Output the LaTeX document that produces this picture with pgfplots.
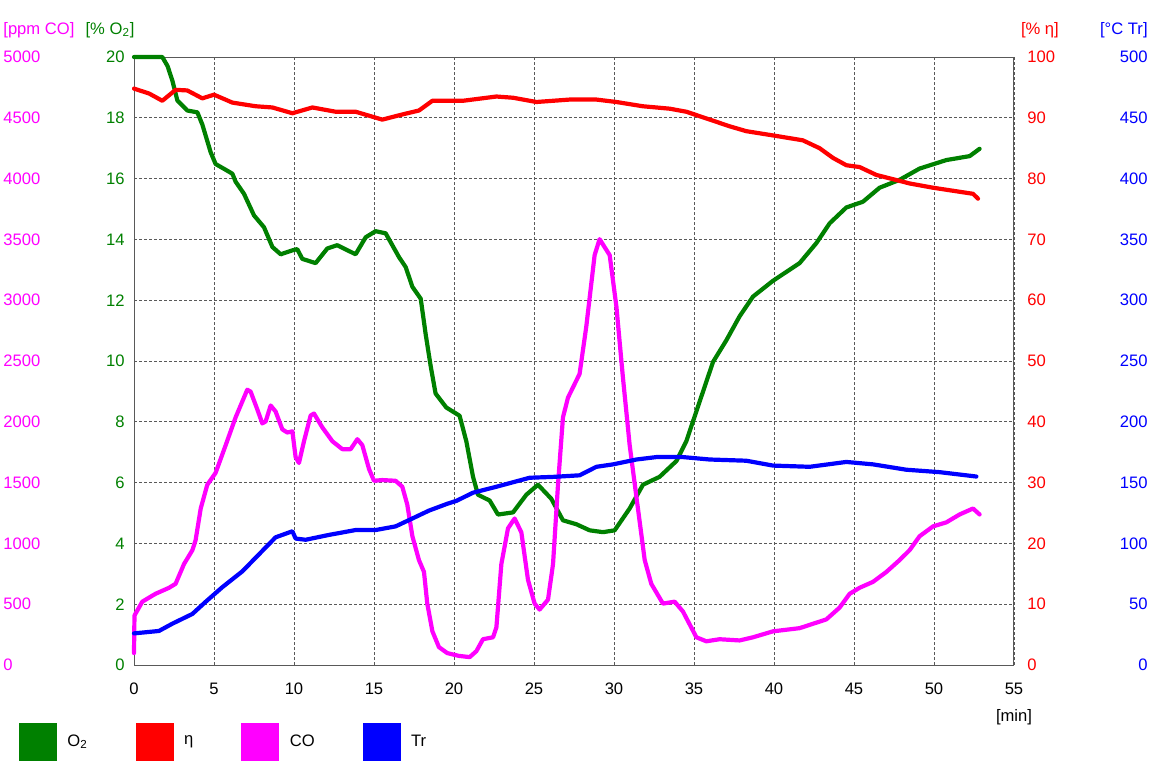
\documentclass[border=0pt]{standalone}
\usepackage{fontspec}
\setmainfont{Liberation Sans}
\usepackage{pgfplots}
\pgfplotsset{compat=1.18}
\definecolor{o2col}{RGB}{0,128,0}
\definecolor{etacol}{RGB}{255,0,0}
\definecolor{cocol}{RGB}{255,0,255}
\definecolor{trcol}{RGB}{0,0,255}
\newcommand\tf{\fontsize{8.3}{10}\selectfont}
\pgfplotsset{
  base/.style={
    scale only axis, width=440pt, height=304pt,
    at={(0,0)}, anchor=south west,
    xmin=0, xmax=55, clip=false,
    major tick length=0pt,
    /pgf/number format/assume math mode=true,
    /pgf/number format/1000 sep={},
    scaled y ticks=false, scaled x ticks=false,
    ticklabel style={font=\tf},
  },
  overlay/.style={base, hide x axis, axis line style={draw=none}},
  series/.style={line width=2.1pt, line join=round, line cap=round},
}
\begin{document}
\begin{tikzpicture}
% ---------- O2 axis (main, grid) ----------
\begin{axis}[base,
  ymin=0, ymax=20, ytick={0,2,...,20},
  xtick={0,5,...,55},
  ytick pos=left,
  axis line style={black!65, line width=0.5pt},
  grid=major,
  major grid style={black!65, line width=0.45pt, dash pattern=on 1.5pt off 1pt},
  yticklabel style={text=o2col, anchor=east, inner sep=0pt, xshift=-4.5pt},
  xticklabel style={anchor=north, inner sep=0pt, yshift=-8.8pt},
]
\addplot[series, o2col] coordinates {
(0,20) (1.77,20) (2.1,19.7) (2.4,19.22) (2.71,18.57) (3.33,18.24) (3.96,18.18) (4.27,17.78) (4.79,16.87) (5.1,16.48) (5.73,16.29) (6.15,16.16) (6.35,15.9) (6.875,15.5) (7.5,14.79) (8.125,14.4) (8.65,13.75) (9.17,13.51) (9.9,13.64) (10.2,13.68) (10.52,13.36) (11.35,13.22) (12.08,13.7) (12.7,13.81) (13.85,13.51) (14.48,14.07) (15.1,14.27) (15.73,14.2) (16.56,13.42) (16.98,13.09) (17.4,12.44) (17.92,12.05) (18.23,10.88) (18.54,9.84) (18.85,8.93) (19.52,8.47) (20.35,8.2) (20.77,7.36) (21.19,6.19) (21.5,5.6) (22.23,5.41) (22.75,4.95) (23.69,5.02) (24.52,5.6) (25.25,5.93) (26.08,5.47) (26.81,4.76) (27.65,4.63) (28.48,4.43) (29.31,4.37) (30.04,4.43) (30.98,5.15) (31.81,5.93) (32.85,6.19) (33.9,6.71) (34.52,7.36) (35.35,8.66) (36.19,9.97) (37.02,10.68) (37.85,11.47) (38.69,12.12) (39.94,12.64) (41.6,13.22) (42.65,13.88) (43.48,14.53) (44.52,15.05) (45.56,15.24) (46.6,15.7) (47.85,15.96) (49.1,16.33) (50.77,16.61) (52.23,16.74) (52.85,16.98)
};
\end{axis}
% ---------- eta axis (right, inner) ----------
\begin{axis}[overlay,
  ymin=0, ymax=100, ytick={0,10,...,100},
  ytick pos=right,
  yticklabel style={text=etacol, anchor=west, inner sep=0pt, xshift=6.5pt},
]
\addplot[series, etacol] coordinates {
(0,94.8) (0.94,94.0) (1.77,92.8) (2.6,94.6) (3.33,94.5) (4.27,93.2) (5,93.8) (6.15,92.5) (7.6,91.9) (8.65,91.7) (9.9,90.75) (11.15,91.7) (12.6,91.0) (13.85,91.0) (15.52,89.7) (16.77,90.55) (17.81,91.2) (18.65,92.8) (19.69,92.8) (20.56,92.8) (22.65,93.5) (23.69,93.3) (25.15,92.6) (27.23,93.0) (28.9,93.0) (30.15,92.6) (31.8,91.9) (33.48,91.5) (34.52,91.0) (35.77,89.9) (37.23,88.6) (38.27,87.8) (39.94,87.1) (41.8,86.3) (42.85,85.0) (43.69,83.4) (44.52,82.2) (45.35,81.9) (46.4,80.6) (47.44,79.9) (48.48,79.2) (49.94,78.5) (51.19,78.0) (52.44,77.5) (52.75,76.7)
};
\end{axis}
% ---------- CO axis (left, outer) ----------
\begin{axis}[overlay,
  ymin=0, ymax=5000, ytick={0,500,...,5000},
  ytick pos=left,
  yticklabel style={text=cocol, anchor=west, inner sep=0pt, xshift=-65.5pt},
]
\addplot[series, cocol] coordinates {
(0,98) (0.03,407) (0.52,521) (1.35,586) (2.19,635) (2.6,668) (3.125,830) (3.65,945) (3.85,1026) (4.17,1287) (4.58,1482) (5.1,1580) (5.73,1808) (6.35,2036) (7.08,2264) (7.29,2248) (7.71,2101) (8.02,1987) (8.23,2003) (8.54,2134) (8.85,2085) (9.27,1938) (9.58,1912) (9.9,1922) (10.1,1710) (10.31,1661) (10.625,1840) (11.04,2052) (11.25,2068) (11.77,1954) (12.4,1840) (13.02,1775) (13.54,1775) (13.96,1857) (14.27,1808) (14.69,1612) (15,1515) (15.52,1521) (16.35,1515) (16.77,1466) (17.08,1319) (17.4,1059) (17.81,863) (18.125,765) (18.33,505) (18.65,277) (19.06,147) (19.58,98) (20.3,75) (20.98,65) (21.4,114) (21.81,212) (22.44,228) (22.65,309) (22.96,830) (23.375,1124) (23.79,1205) (24.21,1091) (24.625,700) (25.04,505) (25.35,456) (25.875,537) (26.19,830) (26.5,1482) (26.81,2036) (27.125,2199) (27.85,2394) (28.27,2785) (28.79,3371) (29.1,3502) (29.73,3371) (30.15,2948) (30.56,2362) (30.98,1808) (31.4,1384) (31.92,863) (32.33,668) (33.06,505) (33.79,521) (34.31,440) (35.15,228) (35.77,195) (36.6,212) (37.85,202) (38.69,228) (39.94,277) (41.6,303) (43.27,375) (44.1,472) (44.73,586) (45.35,635) (46.19,684) (47.02,765) (47.85,863) (48.48,945) (49.1,1059) (49.94,1140) (50.77,1173) (51.6,1238) (52.44,1287) (52.85,1238)
};
\end{axis}
% ---------- Tr axis (right, outer) ----------
\begin{axis}[overlay,
  ymin=0, ymax=500, ytick={0,50,...,500},
  ytick pos=right,
  yticklabel style={text=trcol, anchor=east, inner sep=0pt, xshift=67pt},
  legend columns=4,
  legend style={at={(0,0)}, anchor=west, xshift=-57.5pt, yshift=-38.5pt,
    draw=none, fill=none, inner sep=0pt, outer sep=0pt,
    font=\tf, column sep=0pt,
    nodes={inner sep=0pt, anchor=west},
    /tikz/every odd column/.append style={column sep=5.2pt},
    /tikz/every even column/.append style={column sep=24pt}},
  legend image code/.code={\fill[#1] (0pt,-9.5pt) rectangle (19pt,9.5pt);},
]
\addlegendimage{fill=o2col, draw=none}\addlegendentry{O\textsubscript{2}}
\addlegendimage{fill=etacol, draw=none}\addlegendentry{η}
\addlegendimage{fill=cocol, draw=none}\addlegendentry{CO}
\addlegendimage{fill=trcol, draw=none}\addlegendentry{Tr}
\addplot[series, trcol, forget plot] coordinates {
(0,26) (1.56,28) (2.4,34) (3.65,42) (4.48,52) (5.52,64) (6.77,77) (7.81,91) (8.85,105) (9.69,109) (9.9,110) (10.1,104) (10.73,103) (12.19,107) (13.85,111) (15.1,111) (16.35,114) (17.4,120.5) (18.44,127) (19.58,132.6) (20.15,135) (21.19,141.7) (22.65,146.6) (24.73,154) (26.19,154.7) (27.85,156) (28.9,163) (29.94,165) (31.4,169) (32.65,171) (34.3,171) (35.98,169) (38.27,168) (39.94,164) (42.23,163) (44.52,167) (46.19,165) (48.27,160.6) (50.35,158.6) (52.65,155)
};
\end{axis}
% ---------- axis titles ----------
\node[anchor=base west, inner sep=0pt, text=cocol, font=\tf] at (-65.5pt,315.5pt) {[ppm CO]};
\node[anchor=base east, inner sep=0pt, text=o2col, font=\tf] at (0.5pt,315.5pt) {[\% O\textsubscript{2}]};
\node[anchor=base west, inner sep=0pt, text=etacol, font=\tf] at (443.3pt,315.5pt) {[\% η]};
\node[anchor=base east, inner sep=0pt, text=trcol, font=\tf] at (507pt,315.5pt) {[°C Tr]};
\node[anchor=base, inner sep=0pt, font=\tf] at (440pt,-28pt) {[min]};
\pgfresetboundingbox
\path (-67pt,-51.5pt) rectangle (509pt,332.5pt);
\end{tikzpicture}
\end{document}
